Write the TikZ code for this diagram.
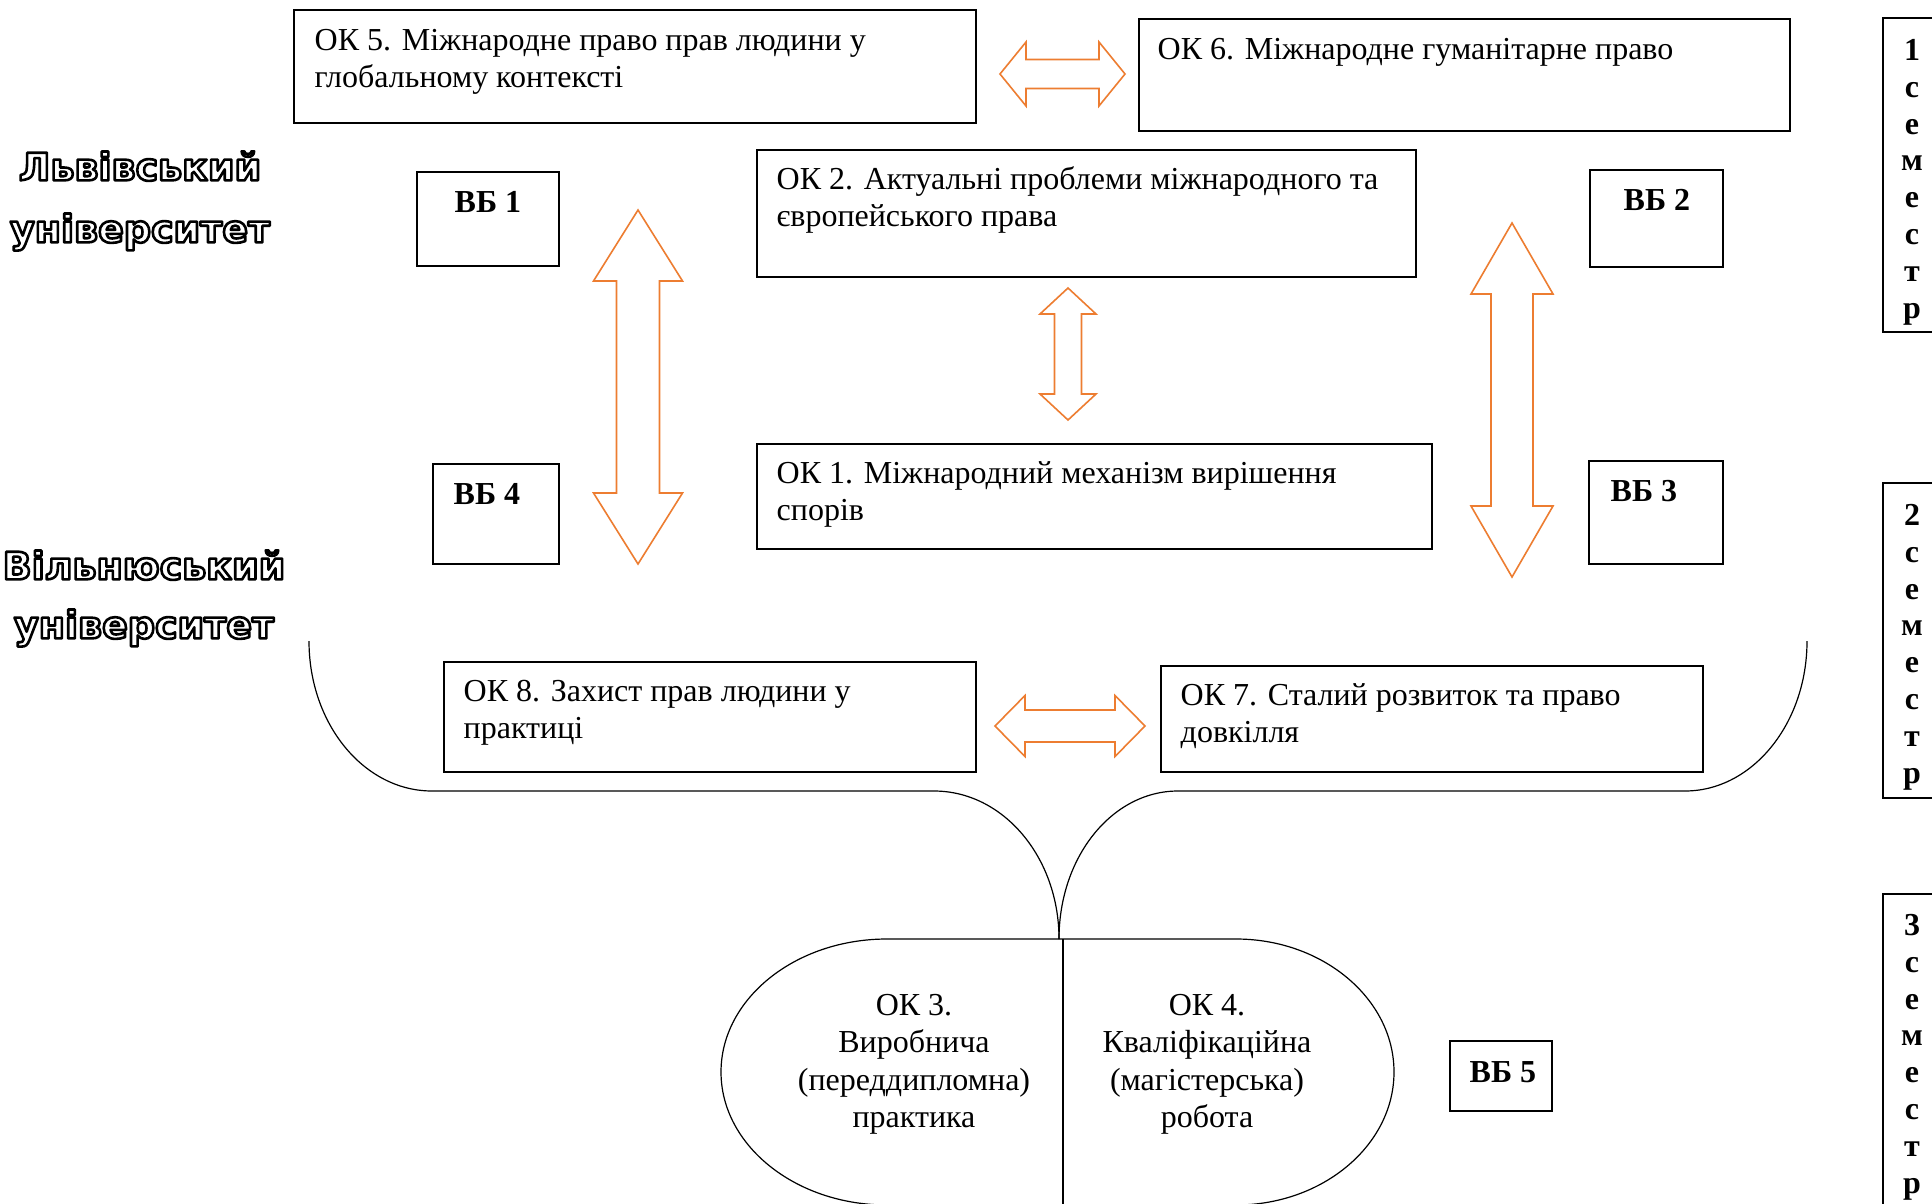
\documentclass[tikz,border=0pt]{standalone}
\usepackage{fontspec}
\setmainfont{Liberation Serif}
\newfontfamily\unifont{DejaVu Sans}
\usetikzlibrary{fit,calc}
\definecolor{arrorange}{RGB}{237,125,49}
\tikzset{
  box/.style={draw=black, line width=0.7pt, inner sep=0pt},
  txt/.style={anchor=north west, inner sep=0pt, align=left, font=\fontsize{16}{18.5}\selectfont},
  vbtxt/.style={anchor=north west, inner sep=0pt, font=\fontsize{16}{18.5}\selectfont\bfseries},
  semtxt/.style={anchor=north, inner sep=0pt, align=center, font=\fontsize{16}{18.4}\selectfont\bfseries},
  ctxt/.style={anchor=north, inner sep=0pt, align=center, font=\fontsize{16}{18.75}\selectfont},
  unitxt/.style={anchor=north, inner sep=0pt, align=center, text=black},
  oarr/.style={draw=arrorange, line width=0.8pt, fill=white, line join=miter},
  curve/.style={draw=black, line width=0.6pt},
}
\newcommand\fr{\rule{0pt}{14pt}}
\newcommand\ufr{\rule{0pt}{18pt}}
% hollow (outlined) text: PDF text render mode 1
\newcommand\hollow[1]{\special{pdf:literal direct 1 Tr 1.3 w 1 j}#1\special{pdf:literal direct 0 Tr}}
% vertical double block arrow: cx, ytop, ybot, headlen, headhalf, shafthalf
\newcommand\varr[6]{%
  \draw[oarr] (#1,#2) -- (#1+#5,#2+#4) -- (#1+#6,#2+#4) -- (#1+#6,#3-#4) -- (#1+#5,#3-#4)
    -- (#1,#3) -- (#1-#5,#3-#4) -- (#1-#6,#3-#4) -- (#1-#6,#2+#4) -- (#1-#5,#2+#4) -- cycle;}
% horizontal double block arrow: cy, xleft, xright, headlen, headhalf, shafthalf
\newcommand\harr[6]{%
  \draw[oarr] (#2,#1) -- (#2+#4,#1-#5) -- (#2+#4,#1-#6) -- (#3-#4,#1-#6) -- (#3-#4,#1-#5)
    -- (#3,#1) -- (#3-#4,#1+#5) -- (#3-#4,#1+#6) -- (#2+#4,#1+#6) -- (#2+#4,#1+#5) -- cycle;}
\begin{document}
\begin{tikzpicture}[x=0.5pt, y=-0.5pt]
\clip (0,0) rectangle (1932,1204);
\fill[white] (0,0) rectangle (1932,1204);

% boxes
\node[box, fit={(294,10) (976,123)}] (ok5) {};
\node[box, fit={(1139,19) (1790,131)}] (ok6) {};
\node[box, fit={(757,150) (1416,277)}] (ok2) {};
\node[box, fit={(757,444) (1432,549)}] (ok1) {};
\node[box, fit={(444,662) (976,772)}] (ok8) {};
\node[box, fit={(1161,666) (1703,772)}] (ok7) {};
\node[box, fit={(417,172) (559,266)}] (vb1) {};
\node[box, fit={(1590,170) (1723,267)}] (vb2) {};
\node[box, fit={(1589,461) (1723,564)}] (vb3) {};
\node[box, fit={(433,464) (559,564)}] (vb4) {};
\node[box, fit={(1450,1041) (1552,1111)}] (vb5) {};
\node[box, fit={(1883,18) (1970,332)}] (sem1) {};
\node[box, fit={(1883,483) (1970,798)}] (sem2) {};
\node[box, fit={(1883,894) (1970,1260)}] (sem3) {};

% box texts
\node[txt] (ok5t) at ($(ok5.north west)+(21,13)$) {\fr ОК 5. Міжнародне право прав людини у\\глобальному контексті};
\node[txt] (ok6t) at ($(ok6.north west)+(19,13)$) {\fr ОК 6. Міжнародне гуманітарне право};
\node[txt] (ok2t) at ($(ok2.north west)+(20,12)$) {\fr ОК 2. Актуальні проблеми міжнародного та\\європейського права};
\node[txt] (ok1t) at ($(ok1.north west)+(20,12)$) {\fr ОК 1. Міжнародний механізм вирішення\\спорів};
\node[txt] (ok8t) at ($(ok8.north west)+(20,12)$) {\fr ОК 8. Захист прав людини у\\практиці};
\node[txt] (ok7t) at ($(ok7.north west)+(20,12)$) {\fr ОК 7. Сталий розвиток та право\\довкілля};

\node[vbtxt] (vb1t) at ($(vb1.north west)+(38,13)$) {\fr ВБ 1};
\node[vbtxt] (vb2t) at ($(vb2.north west)+(34,13)$) {\fr ВБ 2};
\node[vbtxt] (vb3t) at ($(vb3.north west)+(22,13)$) {\fr ВБ 3};
\node[vbtxt] (vb4t) at ($(vb4.north west)+(21,13)$) {\fr ВБ 4};
\node[vbtxt] (vb5t) at ($(vb5.north west)+(20,14)$) {\fr ВБ 5};

\node[semtxt] (sem1t) at (1912,32) {\fr 1\\с\\е\\м\\е\\с\\т\\р};
\node[semtxt] (sem2t) at (1912,497) {\fr 2\\с\\е\\м\\е\\с\\т\\р};
\node[semtxt] (sem3t) at (1912,907) {\fr 3\\с\\е\\м\\е\\с\\т\\р};

% university labels (outlined letters)
\node[unitxt, font=\unifont\bfseries\fontsize{19}{31}\selectfont] (lviv) at (140,144)
  {\ufr\hollow{Львівський}\\\hollow{університет}};
\node[unitxt, font=\unifont\bfseries\fontsize{19}{29.5}\selectfont] (vilnius) at (144,543)
  {\ufr\hollow{Вільнюський}\\\hollow{університет}};

% orange block arrows
\harr{74}{1000}{1125}{26}{32}{14.5}
\varr{638}{210}{564}{71}{44.5}{21.5}
\varr{1068}{288}{420}{26}{28}{13.5}
\varr{1512}{223}{577}{71}{41}{21}
\harr{726}{995}{1145}{30}{30.5}{16}

% brace-like curves
\coordinate (join) at (1059,939);
\draw[curve] (309,641) .. controls (309,724) and (364,791) .. (432,791)
  -- (934,791) .. controls (1003,791) and (1059,857) .. (join);
\draw[curve] (1807,641) .. controls (1807,724) and (1752,791) .. (1685,791)
  -- (1178,791) .. controls (1112,791) and (1059,857) .. (join);

% bottom rounded shape with OK3 / OK4
\draw[curve] (887,939) -- (1236,939)
  .. controls (1323,939) and (1394,999) .. (1394,1072)
  .. controls (1394,1145) and (1323,1205) .. (1236,1205)
  -- (887,1205)
  .. controls (795,1205) and (721,1145) .. (721,1072)
  .. controls (721,999) and (795,939) .. (887,939);
\draw[curve] (1063,939) -- (1063,1205);
\node[ctxt] (ok3) at (914,987) {\fr ОК 3.\\Виробнича\\(переддипломна)\\практика};
\node[ctxt] (ok4) at (1207,987) {\fr ОК 4.\\Кваліфікаційна\\(магістерська)\\робота};
\end{tikzpicture}
\end{document}
